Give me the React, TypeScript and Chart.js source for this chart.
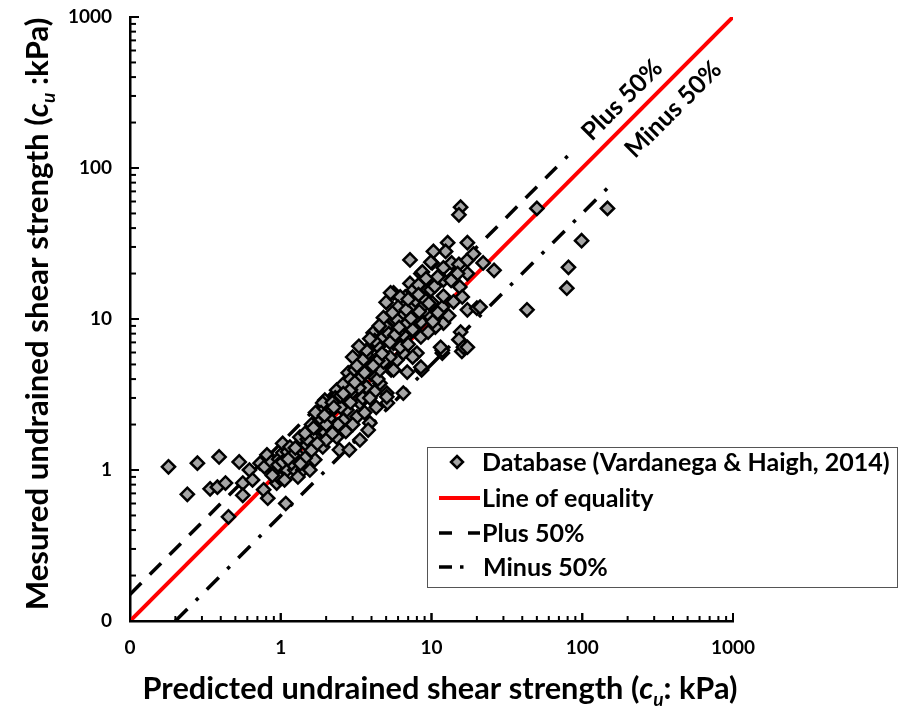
import React, { useEffect, useRef } from "react";
import { Chart, registerables } from "chart.js";

Chart.register(...registerables);

const FAMILY = "Lato, 'Open Sans', 'DejaVu Sans', sans-serif";

// Predicted undrained shear strength (kPa)
const predicted = [
  0.18, 0.24, 0.28, 0.34, 0.38, 0.39, 0.43, 0.45, 0.53, 0.56, 0.56, 0.62, 0.65, 0.73, 0.81, 0.78, 0.77, 0.82, 0.87, 0.94,
  1.08, 0.92, 0.97, 0.99, 0.96, 0.88,
  1.03, 1.03, 1.1, 1.11, 1.24, 1.34, 1.4, 1.15, 1.34, 1.49, 1.56, 1.68, 1.8, 1.9, 1.9, 2.0, 1.03, 1.18, 1.3, 1.56, 1.68,
  1.06, 1.2, 1.25, 1.45, 1.6, 1.12, 1.5, 1.75, 1.35,
  2.8, 3.2, 3.7, 4.55, 5.05, 5.1, 2.35, 2.75, 1.96, 2.2, 2.75, 3.35, 2.1, 2.6, 3.2, 3.9, 3.8, 1.73, 2.35, 2.45, 2.85, 3.35,
  1.9, 1.85, 1.6, 2.1, 2.4, 2.5, 2.3, 2.9, 3.0, 3.3, 3.5, 2.6, 2.9, 3.1, 3.4, 3.6, 4.0, 4.2, 4.4, 3.9, 4.3, 3.0, 2.7, 2.0,
  1.7, 2.2, 3.6, 4.0, 6.5, 5.05,
  3.7, 5.0, 5.4, 5.9, 8.0, 11.8, 15.9, 8.6, 8.5, 7.2, 5.6, 5.0, 6.7, 7.8, 9.4, 10.1, 11.8, 12, 15.4, 17.3, 13.6, 10.1, 22,
  26, 17.3, 20, 12, 10.6, 15.6, 15.2, 16.3, 11.8, 8.5, 4.1, 4.7, 5.6, 6.5, 3.7, 4.55, 5.6, 6.7, 3.5, 4.35, 5.3, 6.5, 7.5,
  4.55, 5.6, 6.9, 15.6, 15.2, 17.3, 12.8, 12.4, 10.3, 7.2, 9.9, 8.7, 12, 15.2, 17.3, 14.9, 5.35, 6.2, 7.6, 9.9, 12, 5.9,
  5.0, 6.9, 8.5, 9.9, 17.3, 11.5, 8.5, 6.5, 4.35,
  4.2, 4.8, 5.2, 6.0, 6.2, 7.0, 7.5, 8.0, 7.2, 6.0, 8.8, 9.0, 10.5, 11, 9.2, 8.2, 6.8, 5.5, 4.8, 4.5, 3.9, 3.3, 3.0, 3.2,
  4.8, 5.7, 9.5, 10.2, 13, 14, 11, 13.5, 16, 7.0, 8.2, 19,
  2.5, 2.9, 3.4, 3.9, 4.4, 2.2, 2.6, 3.1, 3.6, 4.1, 4.7, 5.3, 6.1, 7.3, 8.3, 9.6, 1.45, 1.65, 1.95, 2.25,
  50, 147, 99, 81, 79, 43, 21,
];

// Measured undrained shear strength (kPa)
const measured = [
  1.05, 0.69, 1.11, 0.75, 0.77, 1.22, 0.82, 0.49, 1.13, 0.82, 0.68, 1.0, 0.86, 1.11, 1.26, 1.05, 0.74, 0.65, 1.13, 0.82,
  0.6, 0.98, 1.18, 0.88, 1.08, 0.92,
  1.3, 1.5, 1.0, 1.32, 1.0, 1.22, 1.0, 1.42, 1.65, 1.46, 1.78, 1.65, 2.14, 1.84, 1.42, 1.58, 1.13, 1.11, 0.9, 1.0, 1.17,
  0.86, 1.25, 1.4, 1.2, 1.35, 1.18, 1.6, 1.5, 1.1,
  4.4, 3.95, 3.55, 3.75, 3.23, 2.78, 3.38, 3.05, 2.9, 2.5, 2.5, 2.78, 1.93, 2.14, 2.25, 2.05, 1.84, 1.9, 1.65, 1.36, 1.36, 1.58,
  2.78, 2.4, 2.0, 2.2, 2.0, 2.6, 3.0, 2.8, 3.3, 3.5, 3.0, 3.7, 4.0, 4.6, 4.2, 4.9, 4.3, 3.3, 4.0, 3.0, 2.6, 2.0, 1.8, 2.0,
  2.4, 1.75, 2.4, 5.0, 3.23, 3.05,
  5.8, 5.6, 4.6, 5.35, 5.95, 5.95, 6.1, 4.6, 20, 17.2, 14.9, 12.9, 14, 12.8, 15.6, 12.8, 12, 14.2, 16.3, 20, 23.5, 23.5, 23.5,
  21, 11.5, 11.8, 9.4, 8.85, 8.2, 7.3, 6.5, 6.2, 4.8, 8.1, 8.5, 9.9, 10.9, 6.2, 6.7, 6.9, 7.5, 5.35, 5.35, 5.6, 5.95, 5.6,
  4.6, 4.6, 4.45, 55, 49, 32, 32, 28, 28, 24.6, 23.8, 20.5, 21.8, 23, 24.5, 20, 14.9, 14, 15.6, 15.6, 18.1, 9.9,
  8.85, 9.4, 9.55, 10.3, 6.5, 6.5, 7.6, 7.85, 6.7,
  7.2, 7.6, 8.0, 8.2, 6.5, 6.8, 8.5, 10.5, 11.8, 12.0, 12.2, 13.5, 16.5, 19, 18.5, 16.8, 11.5, 11, 10.2, 9.0, 7.4, 6.6, 5.6, 4.9,
  5.2, 7.8, 8.2, 9.6, 10.5, 13, 11, 18, 14, 13.5, 14.5, 27,
  3.1, 3.4, 4.1, 4.6, 5.3, 2.8, 3.2, 3.8, 4.4, 4.9, 5.9, 7.0, 8.8, 10.1, 11.2, 12.7, 1.75, 1.9, 2.3, 2.6,
  54, 54, 33, 22, 16, 11.5, 12,
];

const tickValues = [0.1, 1, 10, 100, 1000];
const tickLabels = ["0", "1", "10", "100", "1000"];

const equalityX = [0.1, 1000];
const equalityY = [0.1, 1000];
const plusX = [0.1, 80];
const plusY = [0.15, 120];
const minusX = [0.2, 160];
const minusY = [0.1, 80];

const legendLabels = [
  "Database (Vardanega & Haigh, 2014)",
  "Line of equality",
  "Plus 50%",
  "Minus 50%",
];

type Seg = { text: string; italic?: boolean; sub?: boolean };

const xTitle: Seg[] = [
  { text: "Predicted undrained shear strength (" },
  { text: "c", italic: true },
  { text: "u", italic: true, sub: true },
  { text: ": kPa)" },
];
const yTitle: Seg[] = [
  { text: "Mesured undrained shear strength (" },
  { text: "c", italic: true },
  { text: "u", italic: true, sub: true },
  { text: " :kPa)" },
];

function segFont(s: Seg, size: number) {
  return `${s.italic ? "italic " : ""}bold ${s.sub ? size * 0.62 : size}px ${FAMILY}`;
}

function richWidth(ctx: CanvasRenderingContext2D, segs: Seg[], size: number) {
  let w = 0;
  for (const s of segs) {
    ctx.font = segFont(s, size);
    w += ctx.measureText(s.text).width;
  }
  return w;
}

function drawRich(
  ctx: CanvasRenderingContext2D,
  segs: Seg[],
  cx: number,
  cy: number,
  targetWidth: number,
  rot: number
) {
  const base = 26;
  const w0 = richWidth(ctx, segs, base);
  const size = Math.max(20, Math.min(32, (base * targetWidth) / w0));
  const total = richWidth(ctx, segs, size);
  ctx.save();
  ctx.translate(cx, cy);
  ctx.rotate(rot);
  ctx.fillStyle = "#000";
  ctx.textAlign = "left";
  ctx.textBaseline = "alphabetic";
  let x = -total / 2;
  for (const s of segs) {
    ctx.font = segFont(s, size);
    ctx.fillText(s.text, x, size * 0.35 + (s.sub ? size * 0.22 : 0));
    x += ctx.measureText(s.text).width;
  }
  ctx.restore();
}

function legendFontSize(ctx: CanvasRenderingContext2D) {
  ctx.font = `bold 20px ${FAMILY}`;
  const w = ctx.measureText(legendLabels[0]).width;
  return Math.max(16, Math.min(26, (20 * 408) / w));
}

const decorPlugin = {
  id: "decor",
  afterDraw(chart: any) {
    const ctx: CanvasRenderingContext2D = chart.ctx;
    const xs = chart.scales.x;
    const ys = chart.scales.y;
    const { left, bottom } = chart.chartArea;

    ctx.save();
    ctx.strokeStyle = "#000";
    ctx.lineWidth = 2;
    // inward tick marks
    for (const d of [0.1, 1, 10, 100]) {
      for (let m = 1; m <= 10; m++) {
        const v = d * m;
        const major = m === 1 || m === 10;
        const px = xs.getPixelForValue(v);
        ctx.beginPath();
        ctx.moveTo(px, bottom);
        ctx.lineTo(px, bottom - (major ? 8 : 5));
        ctx.stroke();
        const py = ys.getPixelForValue(v);
        ctx.beginPath();
        ctx.moveTo(left, py);
        ctx.lineTo(left + (major ? 9 : 6), py);
        ctx.stroke();
      }
    }
    ctx.restore();

    // axis titles
    drawRich(ctx, xTitle, 440, 688, 595, 0);
    drawRich(ctx, yTitle, 37, 314, 593, -Math.PI / 2);

    const fs = legendFontSize(ctx);

    // line annotations
    const annotate = (xsArr: number[], ysArr: number[], label: string, gap: number, up: number) => {
      const x0 = xs.getPixelForValue(xsArr[0]);
      const y0 = ys.getPixelForValue(ysArr[0]);
      const x1 = xs.getPixelForValue(xsArr[1]);
      const y1 = ys.getPixelForValue(ysArr[1]);
      const ang = Math.atan2(y1 - y0, x1 - x0);
      ctx.save();
      ctx.translate(x1 + Math.cos(ang) * gap, y1 + Math.sin(ang) * gap);
      ctx.rotate(ang);
      ctx.font = `bold ${fs}px ${FAMILY}`;
      ctx.fillStyle = "#000";
      ctx.textAlign = "left";
      ctx.textBaseline = "middle";
      ctx.fillText(label, 0, -up);
      ctx.restore();
    };
    annotate(plusX, plusY, legendLabels[2], 27, 1);
    annotate(minusX, minusY, legendLabels[3], 32, 9);

    // legend box
    const bx = 427, by = 447, bw = 470, bh = 140;
    ctx.save();
    ctx.fillStyle = "#fff";
    ctx.fillRect(bx, by, bw, bh);
    ctx.strokeStyle = "#555";
    ctx.lineWidth = 1;
    ctx.strokeRect(bx + 0.5, by + 0.5, bw, bh);
    const rows = [462, 498, 533, 567];
    const tx = 482;
    // diamond
    ctx.beginPath();
    const r = 6;
    ctx.moveTo(457, rows[0] - r);
    ctx.lineTo(457 + r, rows[0]);
    ctx.lineTo(457, rows[0] + r);
    ctx.lineTo(457 - r, rows[0]);
    ctx.closePath();
    ctx.fillStyle = "#a5a5a5";
    ctx.fill();
    ctx.strokeStyle = "#000";
    ctx.lineWidth = 2.5;
    ctx.stroke();
    // red line
    ctx.strokeStyle = "#ff0000";
    ctx.lineWidth = 4;
    ctx.beginPath();
    ctx.moveTo(439, rows[1]);
    ctx.lineTo(480, rows[1]);
    ctx.stroke();
    // dashed
    ctx.strokeStyle = "#000";
    ctx.lineWidth = 3.5;
    ctx.beginPath();
    ctx.moveTo(439, rows[2]);
    ctx.lineTo(452, rows[2]);
    ctx.moveTo(468, rows[2]);
    ctx.lineTo(480, rows[2]);
    ctx.stroke();
    // dash-dot
    ctx.beginPath();
    ctx.moveTo(439, rows[3]);
    ctx.lineTo(452, rows[3]);
    ctx.moveTo(460, rows[3]);
    ctx.lineTo(463.5, rows[3]);
    ctx.stroke();

    ctx.fillStyle = "#000";
    ctx.font = `bold ${fs}px ${FAMILY}`;
    ctx.textAlign = "left";
    ctx.textBaseline = "middle";
    legendLabels.forEach((t, i) => ctx.fillText(t, i === 3 ? tx + 1 : tx, rows[i] + 1));
    ctx.restore();
  },
};

export default function App() {
  const ref = useRef<HTMLCanvasElement | null>(null);

  useEffect(() => {
    document.body.style.margin = "0";
    const canvas = ref.current;
    if (!canvas) return;
    const tickFont = { family: FAMILY, size: 19, weight: "bold" as const };
    const chart = new Chart(canvas, {
      type: "scatter",
      data: {
        datasets: [
          {
            type: "scatter",
            label: legendLabels[0],
            data: predicted.map((x, i) => ({ x, y: measured[i] })),
            pointStyle: "rectRot",
            pointRadius: 6.6,
            pointBackgroundColor: "#a5a5a5",
            pointBorderColor: "#000",
            pointBorderWidth: 2.5,
            order: 0,
          },
          {
            type: "line",
            label: legendLabels[1],
            data: equalityX.map((x, i) => ({ x, y: equalityY[i] })),
            borderColor: "#ff0000",
            borderWidth: 4,
            pointRadius: 0,
            fill: false,
            order: 1,
          },
          {
            type: "line",
            label: legendLabels[2],
            data: plusX.map((x, i) => ({ x, y: plusY[i] })),
            borderColor: "#000",
            borderWidth: 3.5,
            borderDash: [16, 12],
            pointRadius: 0,
            fill: false,
            order: 2,
          },
          {
            type: "line",
            label: legendLabels[3],
            data: minusX.map((x, i) => ({ x, y: minusY[i] })),
            borderColor: "#000",
            borderWidth: 3.5,
            borderDash: [17, 12, 3.5, 12],
            pointRadius: 0,
            fill: false,
            order: 3,
          },
        ] as any,
      },
      options: {
        animation: false,
        responsive: false,
        maintainAspectRatio: false,
        devicePixelRatio: 1,
        layout: { padding: { top: 17, right: 173, left: 0, bottom: 0 } },
        plugins: { legend: { display: false }, tooltip: { enabled: false } },
        scales: {
          x: {
            type: "logarithmic",
            position: "bottom",
            min: 0.1,
            max: 1000,
            grid: { display: false, drawTicks: false },
            border: { display: true, color: "#000", width: 2.5 },
            ticks: {
              color: "#000",
              font: tickFont,
              padding: 15,
              maxRotation: 0,
              autoSkip: false,
              callback: (v: any) => {
                const i = tickValues.indexOf(Number(v));
                return i >= 0 ? tickLabels[i] : "";
              },
            },
            afterBuildTicks: (s: any) => {
              s.ticks = tickValues.map((v) => ({ value: v, major: true }));
            },
            afterFit: (s: any) => {
              s.height = 88;
              s.paddingLeft = 0;
              s.paddingRight = 0;
            },
          },
          y: {
            type: "logarithmic",
            position: "left",
            min: 0.1,
            max: 1000,
            grid: { display: false, drawTicks: false },
            border: { display: true, color: "#000", width: 2.5 },
            ticks: {
              color: "#000",
              font: tickFont,
              padding: 18,
              autoSkip: false,
              callback: (v: any) => {
                const i = tickValues.indexOf(Number(v));
                return i >= 0 ? tickLabels[i] : "";
              },
            },
            afterBuildTicks: (s: any) => {
              s.ticks = tickValues.map((v) => ({ value: v, major: true }));
            },
            afterFit: (s: any) => {
              s.width = 130;
              s.paddingTop = 0;
              s.paddingBottom = 0;
            },
          },
        },
      } as any,
      plugins: [decorPlugin],
    });
    return () => chart.destroy();
  }, []);

  return (
    <div style={{ width: 906, height: 709, overflow: "hidden", background: "#fff" }}>
      <canvas ref={ref} width={906} height={709} style={{ display: "block", width: 906, height: 709 }} />
    </div>
  );
}
